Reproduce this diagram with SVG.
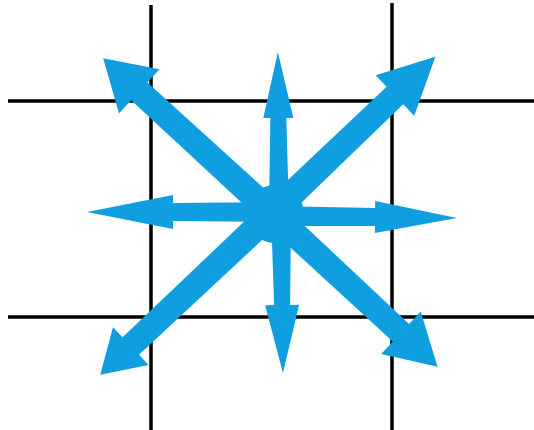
<svg xmlns="http://www.w3.org/2000/svg" width="534" height="430" viewBox="0 0 534 430">
<style>
.grid{stroke:#000;stroke-width:3.5;fill:none}
.arr{fill:#0f9fe0}
</style>
<rect width="534" height="430" fill="#fff"/>
<g id="grid">
<line class="grid" x1="151" y1="5" x2="151" y2="430"/>
<line class="grid" x1="392" y1="3" x2="392" y2="430"/>
<line class="grid" x1="8" y1="101" x2="534" y2="101"/>
<line class="grid" x1="8" y1="317" x2="534" y2="317"/>
</g>
<g id="connectors">
<polygon class="arr" transform="translate(279,213) rotate(-90.4)" points="0,-10 95,-8 95,-15 161,0 95,15 95,8 0,10"/>
<polygon class="arr" transform="translate(281,213) rotate(89.3)" points="0,-10 92,-8 92,-17 160,0 92,17 92,8 0,10"/>
<polygon class="arr" transform="translate(272,216) rotate(0.6)" points="0,-10 103,-9 103,-16 185,0 103,16 103,9 0,10"/>
<polygon class="arr" transform="translate(272,212) rotate(180)" points="0,-10 99,-9 99,-17 185,0 99,17 99,9 0,10"/>
<polygon class="arr" transform="translate(272,213) rotate(-137.5)" points="0,-13 180,-12 180,-30 229,0 180,30 180,12 0,13"/>
<polygon class="arr" transform="translate(272,213) rotate(-43.7)" points="0,-13 170,-12 170,-28 226,0 170,28 170,12 0,13"/>
<polygon class="arr" transform="translate(272,213) rotate(136.7)" points="0,-13 194,-12 194,-26 236,0 194,26 194,12 0,13"/>
<polygon class="arr" transform="translate(272,213) rotate(42.9)" points="0,-13 176,-12 176,-29 226,0 176,29 176,12 0,13"/>
</g>
<g id="center">
<circle class="arr" cx="275" cy="214" r="29"/>
</g>
</svg>
